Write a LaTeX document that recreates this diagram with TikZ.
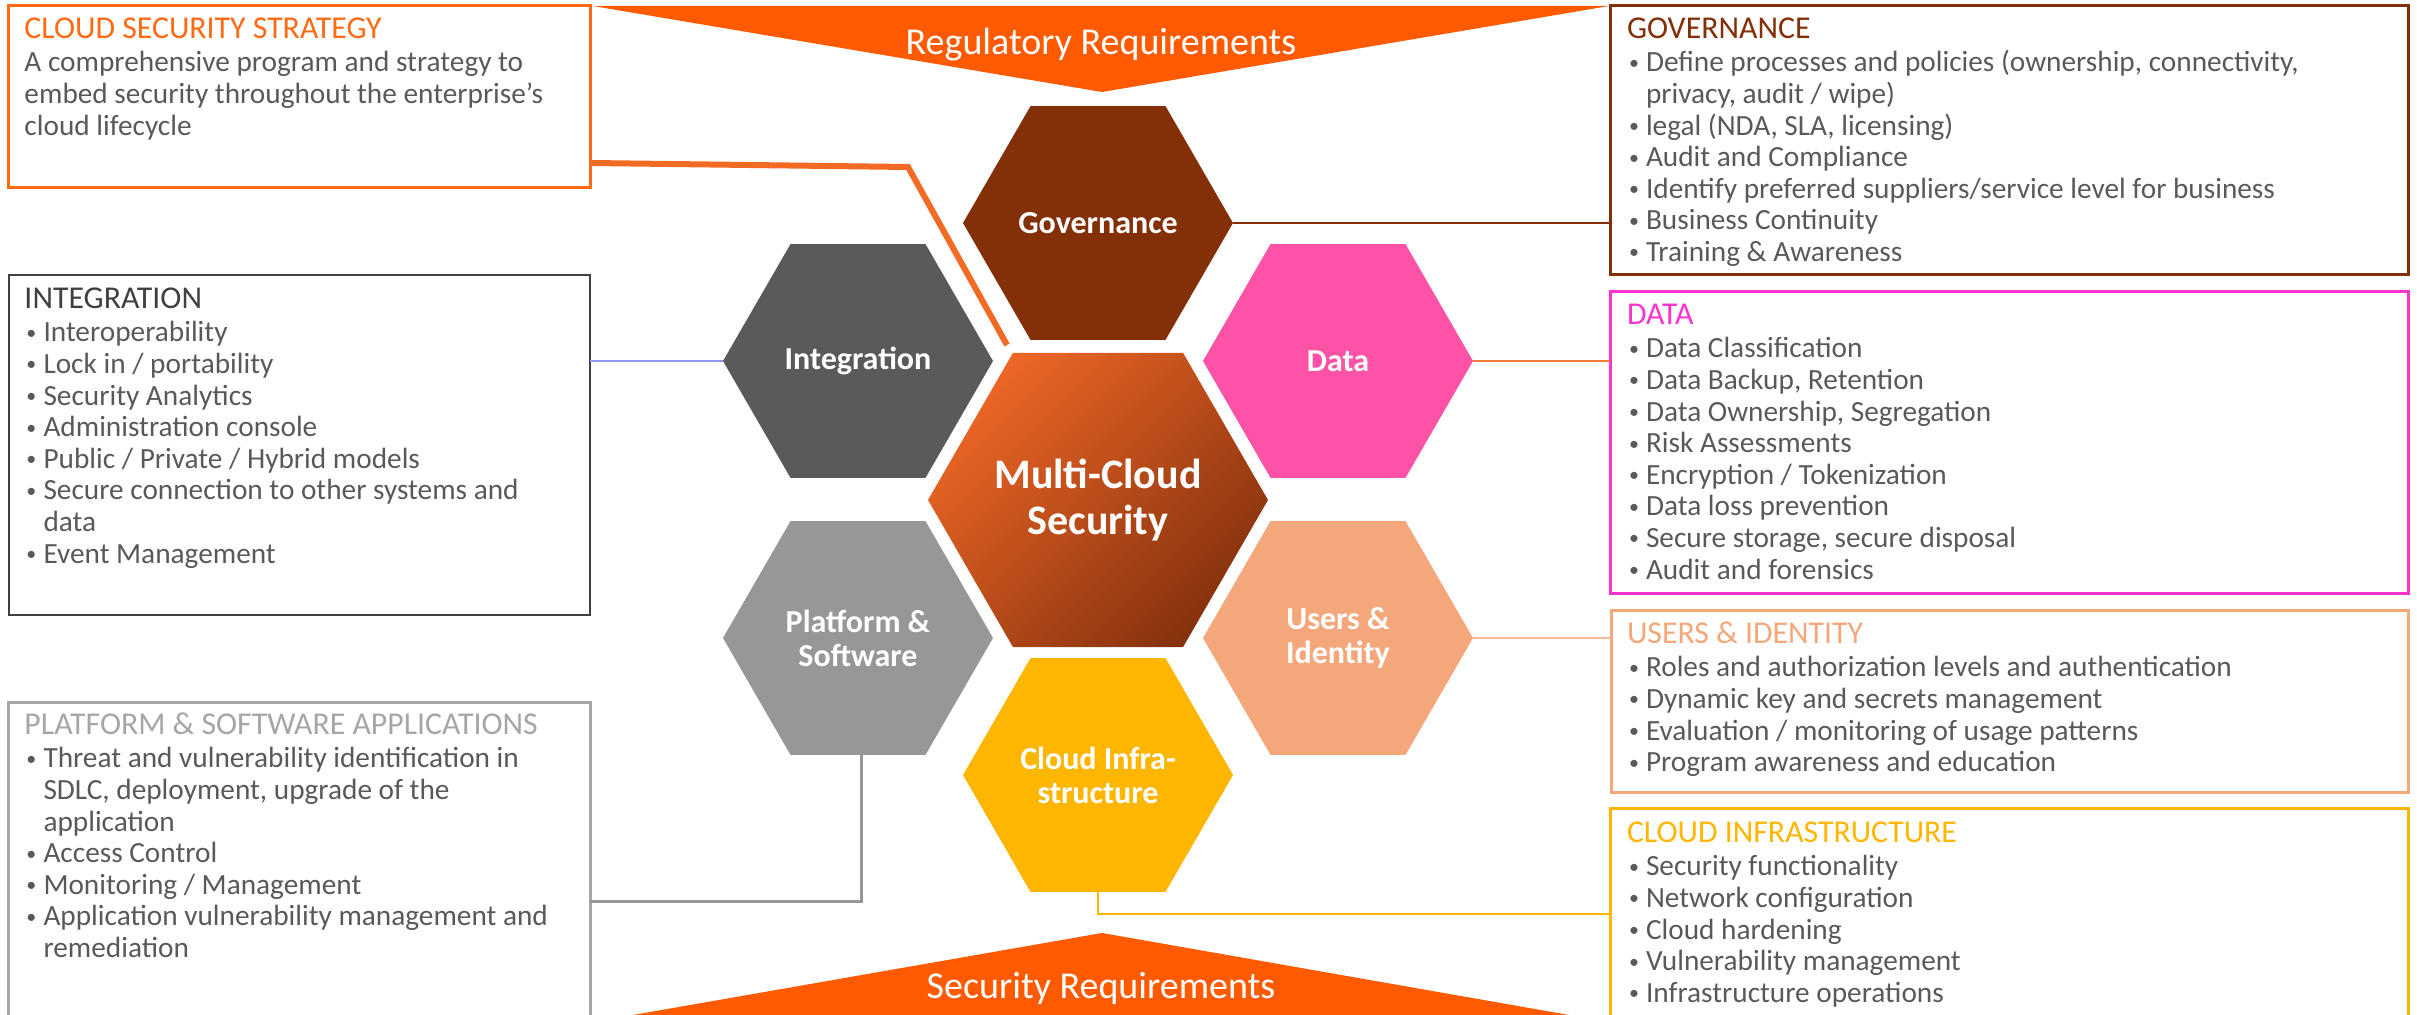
\documentclass[tikz,border=0pt]{standalone}
\usepackage{fontspec}
\setmainfont{Carlito}
\usetikzlibrary{shapes.geometric}
\definecolor{orng}{HTML}{FF5A00}
\definecolor{cssc}{HTML}{FF6A13}
\definecolor{cssline}{HTML}{F26A24}
\definecolor{govc}{HTML}{833008}
\definecolor{intc}{HTML}{5A5A5A}
\definecolor{intb}{HTML}{404040}
\definecolor{intl}{HTML}{8F96F0}
\definecolor{datac}{HTML}{FD52A6}
\definecolor{datab}{HTML}{FF33CC}
\definecolor{datal}{HTML}{F47B3A}
\definecolor{usrc}{HTML}{F4A77B}
\definecolor{usrl}{HTML}{F8B898}
\definecolor{cldc}{HTML}{FFB600}
\definecolor{platc}{HTML}{979797}
\definecolor{platb}{HTML}{A6A6A6}
\definecolor{bodyc}{HTML}{595959}
\definecolor{ctrA}{HTML}{EC6626}
\definecolor{ctrB}{HTML}{86320E}
\newcommand\bul{\makebox[9.5pt][l]{\hspace{1pt}\raisebox{1.3pt}{\fontsize{10pt}{10pt}\selectfont\textbullet}}}
\newcommand\hind{\hspace*{9.5pt}}
\newcommand\boxtitle[2]{{\fontsize{15.9pt}{15.8pt}\selectfont\color{#1}#2}}
\tikzset{
  box/.style={draw=#1, line width=1.5pt, inner sep=0pt, outer sep=0pt, anchor=north west},
  txt/.style={inner sep=0pt, outer sep=0pt, anchor=base west, text=bodyc, font=\fontsize{14.65pt}{15.8pt}\selectfont},
  hexa/.style={regular polygon, regular polygon sides=6, minimum size=135pt, inner sep=0pt, outer sep=0pt, text=white, align=center, font=\fontsize{16pt}{17pt}\selectfont\bfseries, fill=#1},
  conn/.style={draw=#1, line width=1.2pt},
  tri/.style={inner sep=0pt, anchor=base, text=white, font=\fontsize{19pt}{20pt}\selectfont}
}
\begin{document}
\begin{tikzpicture}[x=0.5pt,y=-0.5pt]
\useasboundingbox (0,0) rectangle (2417,1015);
\clip (0,0) rectangle (2417,1015);

% triangles
\fill[orng] (593,6) -- (1609,6) -- (1102,92) -- cycle;
\node[tri] (regtxt) at (1101,55) {Regulatory Requirements};
\fill[orng] (593,1022) -- (1609,1022) -- (1102,933) -- cycle;
\node[tri] (sectxt) at (1101,998) {Security Requirements};

% boxes
\node[box=cssc, minimum width=291pt, minimum height=91pt] (cssbox) at (8,6) {};
\node[box=intb, line width=1.3pt, minimum width=290.5pt, minimum height=170pt] (intbox) at (9,275) {};
\node[box=platb, minimum width=291pt, minimum height=200pt] (platbox) at (8,703) {};
\node[box=govc, minimum width=399pt, minimum height=134.5pt] (govbox) at (1610,6) {};
\node[box=datab, minimum width=399pt, minimum height=151pt] (databox) at (1610,292) {};
\node[box=usrc, minimum width=398.5pt, minimum height=91pt] (usrbox) at (1611,611) {};
\node[box=cldc, minimum width=399pt, minimum height=150pt] (cldbox) at (1610,809) {};

% box texts
\node[txt] (csstxt) at (24.5,39) {\begin{tabular}[t]{@{}l@{}}
\boxtitle{cssc}{CLOUD SECURITY STRATEGY}\\[0.7pt]
A comprehensive program and strategy to\\
embed security throughout the enterprise’s\\
cloud lifecycle
\end{tabular}};

\node[txt] (inttxt) at (24.5,309) {\begin{tabular}[t]{@{}l@{}}
\boxtitle{intb}{INTEGRATION}\\[0.7pt]
\bul Interoperability\\
\bul Lock in / portability\\
\bul Security Analytics\\
\bul Administration console\\
\bul Public / Private / Hybrid models\\
\bul Secure connection to other systems and\\
\hind data\\
\bul Event Management
\end{tabular}};

\node[txt] (plattxt) at (24.5,735) {\begin{tabular}[t]{@{}l@{}}
\boxtitle{platb}{PLATFORM \& SOFTWARE APPLICATIONS}\\[0.7pt]
\bul Threat and vulnerability identification in\\
\hind SDLC, deployment, upgrade of the\\
\hind application\\
\bul Access Control\\
\bul Monitoring / Management\\
\bul Application vulnerability management and\\
\hind remediation
\end{tabular}};

\node[txt] (govtxt) at (1627,39) {\begin{tabular}[t]{@{}l@{}}
\boxtitle{govc}{GOVERNANCE}\\[0.7pt]
\bul Define processes and policies (ownership, connectivity,\\
\hind privacy, audit / wipe)\\
\bul legal (NDA, SLA, licensing)\\
\bul Audit and Compliance\\
\bul Identify preferred suppliers/service level for business\\
\bul Business Continuity\\
\bul Training \& Awareness
\end{tabular}};

\node[txt] (datatxt) at (1627,325) {\begin{tabular}[t]{@{}l@{}}
\boxtitle{datab}{DATA}\\[0.7pt]
\bul Data Classification\\
\bul Data Backup, Retention\\
\bul Data Ownership, Segregation\\
\bul Risk Assessments\\
\bul Encryption / Tokenization\\
\bul Data loss prevention\\
\bul Secure storage, secure disposal\\
\bul Audit and forensics
\end{tabular}};

\node[txt] (usrtxt) at (1627,644) {\begin{tabular}[t]{@{}l@{}}
\boxtitle{usrc}{USERS \& IDENTITY}\\[0.7pt]
\bul Roles and authorization levels and authentication\\
\bul Dynamic key and secrets management\\
\bul Evaluation / monitoring of usage patterns\\
\bul Program awareness and education
\end{tabular}};

\node[txt] (cldtxt) at (1627,843) {\begin{tabular}[t]{@{}l@{}}
\boxtitle{cldc}{CLOUD INFRASTRUCTURE}\\[0.7pt]
\bul Security functionality\\
\bul Network configuration\\
\bul Cloud hardening\\
\bul Vulnerability management\\
\bul Infrastructure operations
\end{tabular}};

% hexagons
\node[hexa=govc] (govhex) at (1098,223) {Governance};
\node[hexa=intc] (inthex) at (858,361) {Integration};
\node[hexa=datac] (datahex) at (1338,361) {Data};
\node[hexa=platc] (plathex) at (858,638) {Platform \&\\Software};
\node[hexa=usrc] (usrhex) at (1338,638) {Users \&\\Identity};
\node[hexa=cldc] (cldhex) at (1098,775) {Cloud Infra-\\structure};
\node[regular polygon, regular polygon sides=6, minimum size=170pt, inner sep=0pt, outer sep=0pt,
      top color=ctrA, bottom color=ctrB, shading angle=45, text=white, align=center,
      font=\fontsize{21pt}{23pt}\selectfont\bfseries] (ctrhex) at (1098,500) {Multi-Cloud\\Security};

% connectors
\coordinate (cssk) at (0,163);
\coordinate (cssb) at (908,167);
\coordinate (csse) at (1007,345);
\draw[cssline, line width=3pt] (cssk -| cssbox.east) -- (cssb) -- (csse);
\draw[conn=govc] (govhex.east) -- (govhex.east -| govbox.west);
\draw[conn=intl] (inthex.west) -- (inthex.west -| intbox.east);
\draw[conn=datal] (datahex.east) -- (datahex.east -| databox.west);
\draw[conn=usrl] (usrhex.east) -- (usrhex.east -| usrbox.west);
\coordinate (cldk) at (0,914);
\draw[conn=cldc] (cldhex.south) |- (cldk -| cldbox.west);
\coordinate (platk) at (0,902);
\draw[conn=platc, line width=1.5pt] ([xshift=1.5pt]plathex.south) |- (platk -| platbox.east);
\end{tikzpicture}
\end{document}
